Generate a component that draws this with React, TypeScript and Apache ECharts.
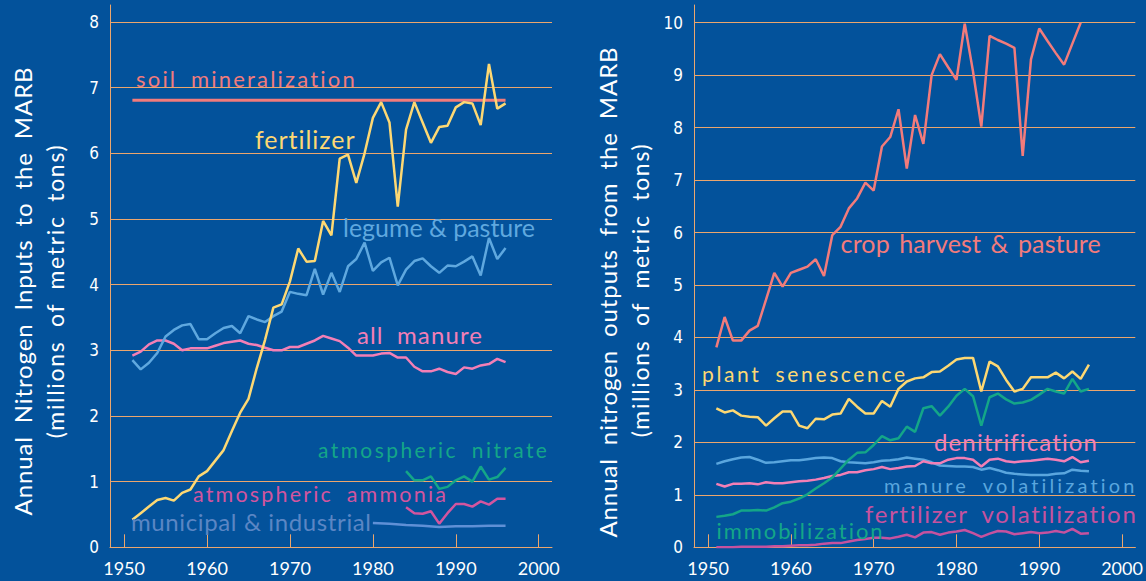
import React, { useEffect, useRef } from 'react';
import * as echarts from 'echarts';

// ---------- data ----------
const years = [1951, 1952, 1953, 1954, 1955, 1956, 1957, 1958, 1959, 1960,
  1961, 1962, 1963, 1964, 1965, 1966, 1967, 1968, 1969, 1970,
  1971, 1972, 1973, 1974, 1975, 1976, 1977, 1978, 1979, 1980,
  1981, 1982, 1983, 1984, 1985, 1986, 1987, 1988, 1989, 1990,
  1991, 1992, 1993, 1994, 1995, 1996];
const lateYears = [1984, 1985, 1986, 1987, 1988, 1989, 1990, 1991, 1992, 1993, 1994, 1995, 1996];
const soilYears = [1951, 1996];
const municipalYears = [1980, 1982, 1984, 1986, 1988, 1990, 1992, 1994, 1996];
const cropYears = years.slice(0, 45);
const xTickValues = [1950, 1960, 1970, 1980, 1990, 2000];

// inputs (left)
const soilMineralization = [6.81, 6.81];
const fertilizer = [0.42, 0.52, 0.62, 0.72, 0.75, 0.71, 0.83, 0.88, 1.08, 1.16,
  1.32, 1.48, 1.77, 2.05, 2.26, 2.73, 3.16, 3.65, 3.70, 4.05,
  4.55, 4.35, 4.36, 4.97, 4.75, 5.92, 5.98, 5.55, 6.00, 6.54,
  6.78, 6.47, 5.19, 6.36, 6.78, 6.47, 6.16, 6.40, 6.42, 6.70,
  6.78, 6.76, 6.43, 7.36, 6.68, 6.76];
const legumePasture = [2.85, 2.71, 2.81, 2.96, 3.21, 3.31, 3.38, 3.40, 3.17, 3.17,
  3.26, 3.34, 3.37, 3.26, 3.52, 3.47, 3.43, 3.52, 3.59, 3.89,
  3.86, 3.84, 4.24, 3.85, 4.18, 3.89, 4.28, 4.39, 4.64, 4.21,
  4.34, 4.41, 3.99, 4.23, 4.36, 4.40, 4.28, 4.18, 4.29, 4.28,
  4.35, 4.43, 4.14, 4.71, 4.39, 4.56];
const allManure = [2.92, 2.98, 3.09, 3.15, 3.15, 3.10, 3.00, 3.03, 3.03, 3.03,
  3.07, 3.11, 3.13, 3.15, 3.10, 3.08, 3.04, 3.00, 3.00, 3.05,
  3.05, 3.10, 3.15, 3.22, 3.18, 3.14, 3.04, 2.92, 2.92, 2.92,
  2.95, 2.96, 2.89, 2.89, 2.75, 2.68, 2.68, 2.72, 2.67, 2.64,
  2.74, 2.72, 2.77, 2.79, 2.87, 2.82];
const atmNitrate = [1.16, 1.02, 1.02, 1.08, 0.89, 0.92, 1.02, 1.08, 1.00, 1.23, 1.03, 1.07, 1.21];
const atmAmmonia = [0.61, 0.52, 0.51, 0.55, 0.36, 0.52, 0.66, 0.66, 0.62, 0.70, 0.65, 0.74, 0.74];
const municipal = [0.37, 0.36, 0.34, 0.33, 0.31, 0.32, 0.32, 0.33, 0.33];

// outputs (right)
const cropHarvest = [3.81, 4.39, 3.94, 3.94, 4.13, 4.22, 4.72, 5.23, 4.97, 5.23,
  5.29, 5.35, 5.49, 5.17, 5.95, 6.11, 6.46, 6.65, 6.95, 6.80,
  7.64, 7.82, 8.35, 7.22, 8.24, 7.69, 9.00, 9.40, 9.15, 8.91,
  9.98, 9.07, 8.02, 9.75, 9.67, 9.60, 9.52, 7.46, 9.30, 9.89,
  9.65, 9.42, 9.20, 9.60, 10.0];
const plantSenescence = [2.65, 2.57, 2.61, 2.51, 2.49, 2.48, 2.32, 2.46, 2.59, 2.59,
  2.32, 2.27, 2.45, 2.44, 2.53, 2.55, 2.83, 2.68, 2.55, 2.55,
  2.79, 2.68, 3.02, 3.16, 3.22, 3.24, 3.34, 3.35, 3.46, 3.58,
  3.61, 3.61, 2.97, 3.54, 3.45, 3.19, 2.97, 3.02, 3.24, 3.24,
  3.24, 3.33, 3.22, 3.35, 3.21, 3.48];
const immobilization = [0.58, 0.60, 0.63, 0.70, 0.70, 0.71, 0.70, 0.76, 0.84, 0.87,
  0.93, 1.01, 1.12, 1.22, 1.33, 1.50, 1.67, 1.80, 1.81, 1.95,
  2.12, 2.04, 2.08, 2.30, 2.20, 2.65, 2.69, 2.51, 2.68, 2.89,
  3.02, 2.88, 2.32, 2.86, 2.93, 2.82, 2.74, 2.76, 2.81, 2.91,
  3.02, 2.97, 2.93, 3.21, 2.97, 3.02];
const denitrification = [1.21, 1.16, 1.21, 1.21, 1.22, 1.20, 1.24, 1.22, 1.22, 1.24,
  1.26, 1.27, 1.29, 1.32, 1.36, 1.38, 1.43, 1.43, 1.47, 1.49,
  1.53, 1.49, 1.51, 1.54, 1.55, 1.64, 1.60, 1.60, 1.67, 1.70,
  1.70, 1.67, 1.54, 1.67, 1.69, 1.64, 1.62, 1.64, 1.65, 1.67,
  1.69, 1.67, 1.64, 1.72, 1.62, 1.65];
const manureVolatilization = [1.59, 1.64, 1.68, 1.71, 1.72, 1.67, 1.61, 1.62, 1.64, 1.66,
  1.66, 1.68, 1.70, 1.71, 1.70, 1.64, 1.62, 1.61, 1.60, 1.62,
  1.65, 1.66, 1.68, 1.71, 1.69, 1.67, 1.62, 1.56, 1.55, 1.54,
  1.54, 1.53, 1.48, 1.51, 1.47, 1.42, 1.40, 1.39, 1.38, 1.38,
  1.38, 1.40, 1.41, 1.48, 1.46, 1.45];
const fertilizerVolatilization = [0.0, 0.0, 0.0, 0.01, 0.01, 0.01, 0.01, 0.02, 0.02, 0.03,
  0.04, 0.04, 0.05, 0.07, 0.08, 0.08, 0.11, 0.14, 0.16, 0.18,
  0.18, 0.17, 0.20, 0.24, 0.19, 0.28, 0.29, 0.24, 0.28, 0.30,
  0.33, 0.27, 0.20, 0.26, 0.31, 0.30, 0.25, 0.27, 0.29, 0.27,
  0.28, 0.31, 0.28, 0.35, 0.26, 0.27];

// ---------- styles ----------
const BG = '#03529b';
const ORANGE = '#eca66d';
const FONT = 'Lato, "Open Sans", "DejaVu Sans", sans-serif';
const NARROW = '"Liberation Sans Narrow", "DejaVu Sans Condensed", "Roboto Condensed", Lato, sans-serif';
const C = {
  salmon: '#f27b7b',
  yellow: '#fdd873',
  lightBlue: '#5fa8df',
  pink: '#f37fb6',
  green: '#14a688',
  magenta: '#d3559f',
  steel: '#5f90d6',
  steelText: '#5b86c4',
  manureBlue: '#5aa6de',
  fertVol: '#c6529f',
};

// annotation layout: left edge, baseline, font size, target width, word spacing
type Ann = { text: string; x: number; base: number; fs: number; w: number; ws: number; color: string };
const annotations: Ann[] = [
  { text: 'soil mineralization', x: 136, base: 86.5, fs: 22, w: 219, ws: 6, color: C.salmon },
  { text: 'fertilizer', x: 255, base: 147.7, fs: 25, w: 100, ws: 0, color: C.yellow },
  { text: 'legume & pasture', x: 343, base: 236, fs: 25, w: 192, ws: 0, color: C.lightBlue },
  { text: 'all manure', x: 357, base: 343.3, fs: 24, w: 125, ws: 6, color: C.pink },
  { text: 'atmospheric nitrate', x: 318, base: 456.7, fs: 21, w: 229, ws: 6, color: C.green },
  { text: 'atmospheric ammonia', x: 193, base: 501.7, fs: 21.5, w: 253, ws: 6, color: C.magenta },
  { text: 'municipal & industrial', x: 131, base: 530, fs: 24, w: 240, ws: 0, color: C.steelText },
  { text: 'crop harvest & pasture', x: 840.6, base: 252.3, fs: 25, w: 260, ws: 3, color: C.salmon },
  { text: 'plant senescence', x: 702, base: 381.5, fs: 21, w: 203, ws: 6, color: C.yellow },
  { text: 'denitrification', x: 934, base: 450.5, fs: 24, w: 163, ws: 0, color: C.pink },
  { text: 'manure volatilization', x: 884, base: 492.5, fs: 20, w: 251, ws: 6, color: C.manureBlue },
  { text: 'fertilizer volatilization', x: 865, base: 522.5, fs: 24, w: 272, ws: 6, color: C.fertVol },
  { text: 'immobilization', x: 716.5, base: 538, fs: 22, w: 166.5, ws: 0, color: C.green },
];
type Title = { text: string; cx: number; cy: number; fs: number; w: number; ws: number };
const titles: Title[] = [
  { text: 'Annual Nitrogen Inputs to the MARB', cx: 22.5, cy: 291, fs: 24, w: 448, ws: 6 },
  { text: '(millions of metric tons)', cx: 55, cy: 291, fs: 23, w: 293, ws: 6 },
  { text: 'Annual nitrogen outputs from the MARB', cx: 607, cy: 292, fs: 24, w: 490, ws: 6 },
  { text: '(millions of metric tons)', cx: 640, cy: 290, fs: 23, w: 293, ws: 6 },
];

const CENTRAL = 0.36; // central baseline offset (em) above alphabetic baseline

function pairs(xs: number[], ys: number[]) {
  return xs.map((x, i) => [x, ys[i]]);
}

function line(name: string, xs: number[], ys: number[], color: string, idx: number, width = 2.5) {
  return {
    type: 'line', name, xAxisIndex: idx, yAxisIndex: idx,
    data: pairs(xs, ys), showSymbol: false, symbol: 'none', silent: true,
    lineStyle: { color, width }, itemStyle: { color }, emphasis: { disabled: true },
  };
}

function xAxis(gridIndex: number) {
  return {
    type: 'value', gridIndex, min: 1948.3, max: 2001.6,
    axisLine: { show: true, onZero: false, lineStyle: { color: ORANGE, width: 1 } },
    axisTick: { show: true, inside: true, length: 13, customValues: xTickValues, lineStyle: { color: ORANGE, width: 1 } },
    axisLabel: {
      show: true, customValues: xTickValues, color: '#ffffff', fontSize: 18, fontFamily: FONT, margin: 12,
      formatter: (v: number) => String(v),
    },
    splitLine: { show: false },
  };
}

function yAxis(gridIndex: number, max: number) {
  return {
    type: 'value', gridIndex, min: 0, max, interval: 1,
    axisLine: { show: true, lineStyle: { color: ORANGE, width: 1 } },
    axisTick: { show: false },
    axisLabel: {
      color: '#ffffff', fontSize: 17, fontFamily: NARROW, margin: 11,
      formatter: (v: number) => (Math.abs(v - Math.round(v)) < 1e-6 ? String(Math.round(v)) : ''),
    },
    splitLine: { show: true, showMaxLine: false, lineStyle: { color: ORANGE, width: 1 } },
  };
}

export default function App() {
  const ref = useRef<HTMLDivElement>(null);
  useEffect(() => {
    if (!ref.current) return;
    document.body.style.margin = '0';
    const chart = echarts.init(ref.current, null, { renderer: 'svg' });
    const graphic: any[] = [];
    annotations.forEach((a) => {
      graphic.push({
        type: 'text', x: a.x, y: a.base - CENTRAL * a.fs, silent: true, z: 10,
        style: {
          text: a.text, fill: a.color, fontSize: a.fs, fontFamily: FONT,
          textAlign: 'left', textVerticalAlign: 'middle', align: 'left', verticalAlign: 'middle',
        },
      });
    });
    titles.forEach((t) => {
      graphic.push({
        type: 'text', x: t.cx, y: t.cy, rotation: Math.PI / 2, silent: true, z: 10,
        style: {
          text: t.text, fill: '#ffffff', fontSize: t.fs, fontFamily: FONT,
          textAlign: 'center', textVerticalAlign: 'middle', align: 'center', verticalAlign: 'middle',
        },
      });
    });

    chart.setOption({
      animation: false,
      backgroundColor: BG,
      grid: [
        { left: 110, top: 5, width: 442, height: 542.3 },
        { left: 694, top: 5, width: 441.3, height: 542.3 },
      ],
      xAxis: [xAxis(0), xAxis(1)],
      yAxis: [yAxis(0, 8.259), yAxis(1, 10.337)],
      series: [
        line('soil mineralization', soilYears, soilMineralization, C.salmon, 0, 3),
        line('all manure', years, allManure, C.pink, 0),
        line('legume & pasture', years, legumePasture, C.lightBlue, 0),
        line('fertilizer', years, fertilizer, C.yellow, 0),
        line('atmospheric nitrate', lateYears, atmNitrate, C.green, 0),
        line('atmospheric ammonia', lateYears, atmAmmonia, C.magenta, 0),
        line('municipal & industrial', municipalYears, municipal, C.steel, 0),
        line('fertilizer volatilization', years, fertilizerVolatilization, C.fertVol, 1),
        line('manure volatilization', years, manureVolatilization, C.manureBlue, 1),
        line('denitrification', years, denitrification, C.pink, 1),
        line('immobilization', years, immobilization, C.green, 1),
        line('plant senescence', years, plantSenescence, C.yellow, 1),
        line('crop harvest & pasture', cropYears, cropHarvest, C.salmon, 1),
      ],
      graphic,
    });

    const spec: Record<string, { w: number; ws: number }> = {};
    annotations.forEach((a) => { spec[a.text] = { w: a.w, ws: a.ws }; });
    titles.forEach((t) => { spec[t.text] = { w: t.w, ws: t.ws }; });

    const applySpacing = () => {
      const root = ref.current;
      if (!root) return;
      root.querySelectorAll('text').forEach((el) => {
        const t = el as SVGTextElement;
        const s = (t.textContent || '').trim();
        const sp = spec[s];
        if (!sp) return;
        try {
          t.style.wordSpacing = sp.ws + 'px';
          t.style.letterSpacing = '0px';
          const nat = t.getComputedTextLength();
          const n = s.length;
          const ls = (sp.w - nat - sp.ws * 0) / Math.max(1, n - 1);
          t.style.letterSpacing = ls.toFixed(2) + 'px';
        } catch (e) { /* ignore */ }
      });
    };
    applySpacing();
    chart.on('finished', applySpacing);
    const timer = window.setTimeout(applySpacing, 50);

    return () => {
      window.clearTimeout(timer);
      chart.dispose();
    };
  }, []);

  return (
    <div
      ref={ref}
      style={{ position: 'fixed', left: 0, top: 0, width: 1146, height: 581, background: BG }}
    />
  );
}
